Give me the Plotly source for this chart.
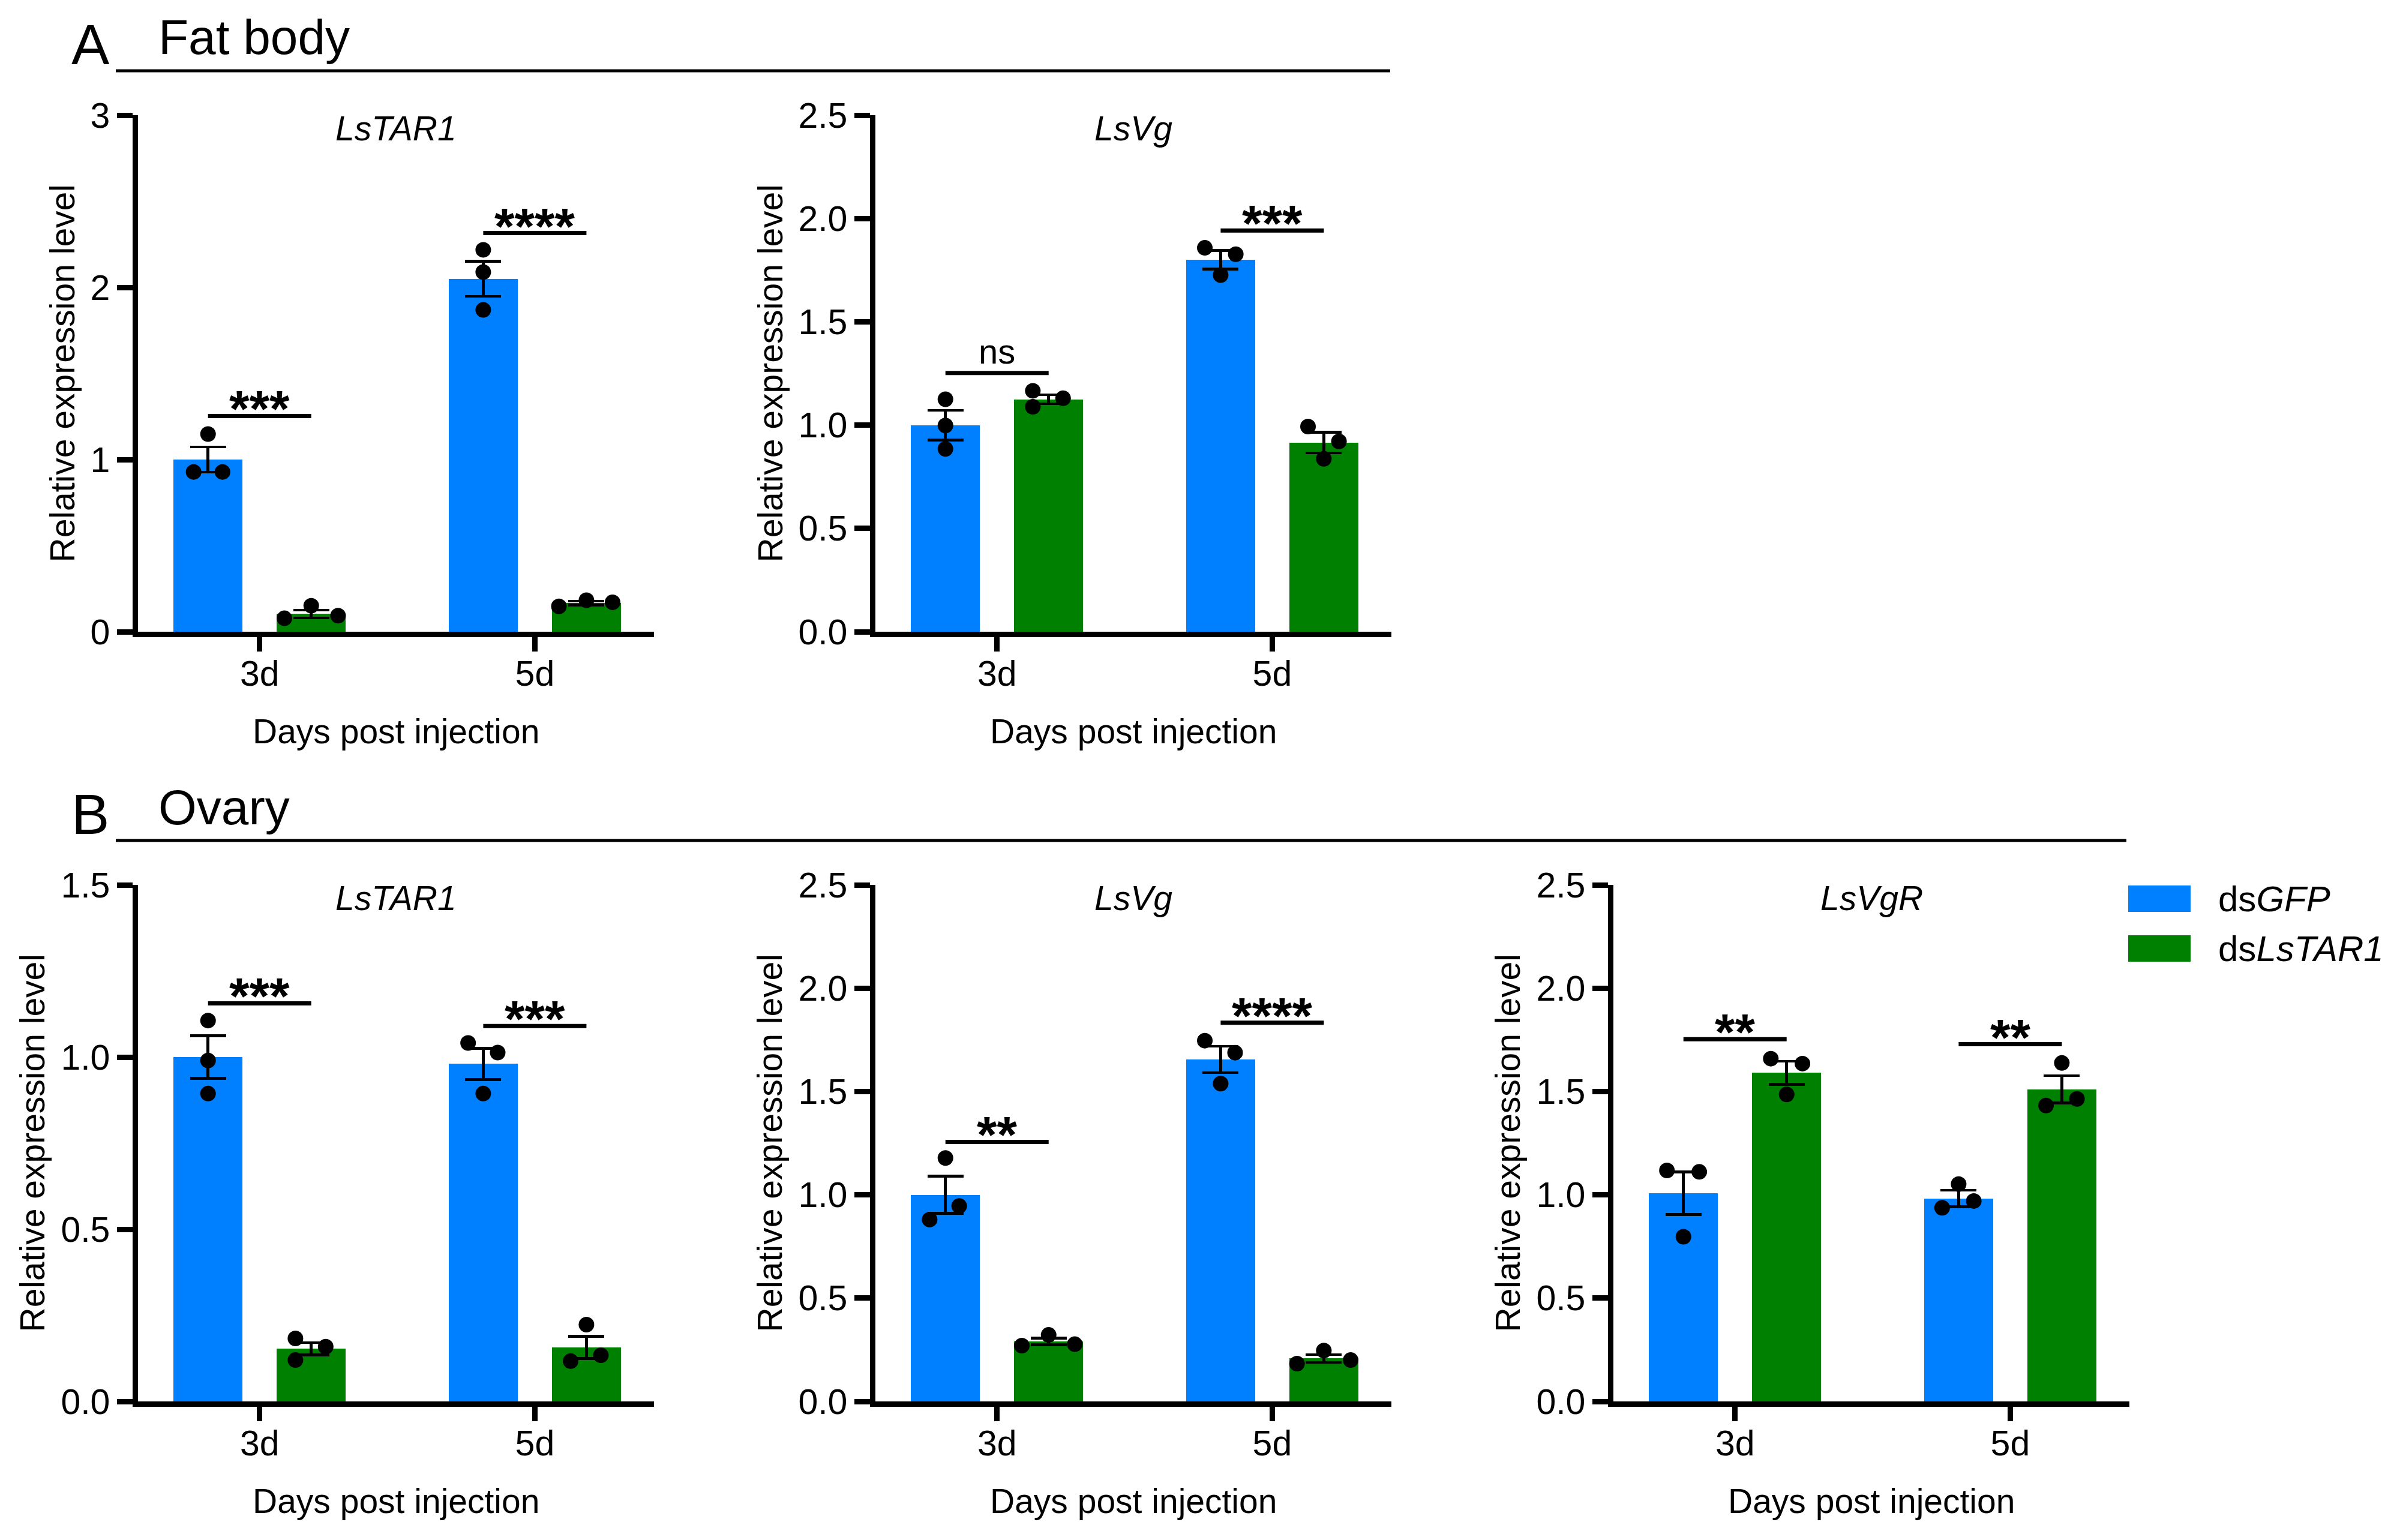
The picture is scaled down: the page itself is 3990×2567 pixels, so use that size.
import plotly.graph_objects as go

W, H = 3990, 2567
BLUE, GREEN = '#0080FF', '#008000'
FONT = 'Arial, Liberation Sans, sans-serif'

groups = ['3d', '5d']

# ---- A: fat body, LsTAR1 ----
fb_tar1_gfp_mean = [1.00, 2.05]
fb_tar1_gfp_sem = [0.074, 0.102]
fb_tar1_gfp_pts = [[1.148, 0.928, 0.928], [2.218, 2.089, 1.869]]
fb_tar1_ds_mean = [0.103, 0.166]
fb_tar1_ds_sem = [0.022, 0.011]
fb_tar1_ds_pts = [[0.078, 0.151, 0.093], [0.147, 0.183, 0.171]]
fb_tar1_sig = [('***', 1.253), ('****', 2.315)]

# ---- A: fat body, LsVg ----
fb_vg_gfp_mean = [1.00, 1.80]
fb_vg_gfp_sem = [0.072, 0.045]
fb_vg_gfp_pts = [[1.125, 0.998, 0.885], [1.858, 1.827, 1.726]]
fb_vg_ds_mean = [1.125, 0.915]
fb_vg_ds_sem = [0.022, 0.050]
fb_vg_ds_pts = [[1.166, 1.089, 1.130], [0.993, 0.921, 0.837]]
fb_vg_sig = [('ns', 1.252), ('***', 1.942)]

# ---- B: ovary, LsTAR1 ----
ov_tar1_gfp_mean = [1.00, 0.98]
ov_tar1_gfp_sem = [0.062, 0.045]
ov_tar1_gfp_pts = [[1.106, 0.990, 0.894], [1.041, 1.013, 0.894]]
ov_tar1_ds_mean = [0.153, 0.157]
ov_tar1_ds_sem = [0.018, 0.032]
ov_tar1_ds_pts = [[0.183, 0.159, 0.120], [0.223, 0.117, 0.134]]
ov_tar1_sig = [('***', 1.156), ('***', 1.090)]

# ---- B: ovary, LsVg ----
ov_vg_gfp_mean = [1.00, 1.655]
ov_vg_gfp_sem = [0.090, 0.064]
ov_vg_gfp_pts = [[1.178, 0.880, 0.946], [1.746, 1.688, 1.538]]
ov_vg_ds_mean = [0.290, 0.208]
ov_vg_ds_sem = [0.016, 0.019]
ov_vg_ds_pts = [[0.270, 0.322, 0.277], [0.183, 0.246, 0.200]]
ov_vg_sig = [('**', 1.256), ('****', 1.833)]

# ---- B: ovary, LsVgR ----
ov_vgr_gfp_mean = [1.007, 0.982]
ov_vgr_gfp_sem = [0.103, 0.040]
ov_vgr_gfp_pts = [[1.118, 1.111, 0.797], [1.052, 0.937, 0.970]]
ov_vgr_ds_mean = [1.590, 1.511]
ov_vgr_ds_sem = [0.056, 0.066]
ov_vgr_ds_pts = [[1.659, 1.635, 1.486], [1.638, 1.432, 1.464]]
ov_vgr_sig = [('**', 1.753), ('**', 1.729)]

# horizontal scatter of the replicate dots (fraction of bar width)
jit = {
    'fb_tar1': ([[0, -0.21, 0.21], [0, 0, 0]], [[-0.39, 0, 0.39], [-0.4, 0, 0.38]]),
    'fb_vg': ([[0, 0, 0], [-0.23, 0.22, 0]], [[-0.23, -0.23, 0.21], [-0.23, 0.22, 0]]),
    'ov_tar1': ([[0, 0, 0], [-0.22, 0.21, 0]], [[-0.23, 0.21, -0.23], [0, -0.23, 0.21]]),
    'ov_vg': ([[0, -0.23, 0.2], [-0.23, 0.21, 0]], [[-0.39, 0, 0.38], [-0.39, 0, 0.39]]),
    'ov_vgr': ([[-0.24, 0.23, 0], [0, -0.24, 0.22]], [[-0.23, 0.23, 0], [0, -0.23, 0.22]]),
}

panels = [
    ('fb_tar1', 'LsTAR1', 0, 0, 3, 1, 'd',
     fb_tar1_gfp_mean, fb_tar1_gfp_sem, fb_tar1_gfp_pts,
     fb_tar1_ds_mean, fb_tar1_ds_sem, fb_tar1_ds_pts, fb_tar1_sig),
    ('fb_vg', 'LsVg', 0, 1, 2.5, 0.5, '.1f',
     fb_vg_gfp_mean, fb_vg_gfp_sem, fb_vg_gfp_pts,
     fb_vg_ds_mean, fb_vg_ds_sem, fb_vg_ds_pts, fb_vg_sig),
    ('ov_tar1', 'LsTAR1', 1, 0, 1.5, 0.5, '.1f',
     ov_tar1_gfp_mean, ov_tar1_gfp_sem, ov_tar1_gfp_pts,
     ov_tar1_ds_mean, ov_tar1_ds_sem, ov_tar1_ds_pts, ov_tar1_sig),
    ('ov_vg', 'LsVg', 1, 1, 2.5, 0.5, '.1f',
     ov_vg_gfp_mean, ov_vg_gfp_sem, ov_vg_gfp_pts,
     ov_vg_ds_mean, ov_vg_ds_sem, ov_vg_ds_pts, ov_vg_sig),
    ('ov_vgr', 'LsVgR', 1, 2, 2.5, 0.5, '.1f',
     ov_vgr_gfp_mean, ov_vgr_gfp_sem, ov_vgr_gfp_pts,
     ov_vgr_ds_mean, ov_vgr_ds_sem, ov_vgr_ds_pts, ov_vgr_sig),
]

# layout in pixels (of the final picture)
col_x0 = [230, 1459, 2689]
col_w = 860
row_top = [192, 1475]
row_bot = [1053, 2336]
bw = 0.25      # bar width (category units)
off = 0.1875   # bar offset from group centre
PAGE = 8       # default body margin of the html page


def px(x):
    return (x - PAGE) / W


def py(y):
    return 1 - (y - PAGE) / H


fig = go.Figure()
annotations = []
shapes = []

for i, p in enumerate(panels):
    key, gene, r, c, ymax, dtick, fmt, gm, gs, gp, dm, ds, dp, sig = p
    n = '' if i == 0 else str(i + 1)
    xa, ya = 'x' + n, 'y' + n
    gx = list(range(len(groups)))

    for mean, sem, col, sgn in [(gm, gs, BLUE, -1), (dm, ds, GREEN, 1)]:
        fig.add_trace(go.Bar(
            x=[g + sgn * off for g in gx], y=mean, width=bw,
            marker=dict(color=col, line=dict(width=0)),
            error_y=dict(type='data', array=sem, visible=True, color='black',
                         thickness=4.5, width=30),
            xaxis=xa, yaxis=ya, showlegend=False))
    for pts, jj, sgn in [(gp, jit[key][0], -1), (dp, jit[key][1], 1)]:
        xs, ys = [], []
        for g in gx:
            for v, j in zip(pts[g], jj[g]):
                xs.append(g + sgn * off + j * bw)
                ys.append(v)
        fig.add_trace(go.Scatter(
            x=xs, y=ys, mode='markers',
            marker=dict(color='black', size=26, line=dict(width=0)),
            xaxis=xa, yaxis=ya, showlegend=False, cliponaxis=False))

    x0 = col_x0[c]
    fig.layout['xaxis' + n] = dict(
        domain=[px(x0), px(x0 + col_w)], anchor=ya, automargin=False,
        range=[-0.442, 1.433], tickvals=gx, ticktext=groups,
        showline=True, linewidth=8.5, linecolor='black', ticks='outside',
        ticklen=24, tickwidth=9, tickcolor='black', showgrid=False, zeroline=False,
        ticklabelstandoff=-14, tickfont=dict(size=59, color='black'))
    fig.layout['yaxis' + n] = dict(
        domain=[py(row_bot[r]), py(row_top[r])], anchor=xa, automargin=False,
        range=[0, ymax], dtick=dtick, tick0=0, tickformat=fmt,
        showline=True, linewidth=8.5, linecolor='black', ticks='outside',
        ticklen=26, tickwidth=9, tickcolor='black', showgrid=False, zeroline=False,
        tickfont=dict(size=59, color='black'))

    # significance brackets
    for g, (txt, yv) in zip(gx, sig):
        shapes.append(dict(type='line', xref=xa, yref=ya, x0=g - off, x1=g + off,
                           y0=yv, y1=yv, line=dict(color='black', width=7)))
        if txt == 'ns':
            annotations.append(dict(xref=xa, yref=ya, x=g, y=yv, text='ns',
                                    showarrow=False, yanchor='bottom', yshift=2,
                                    font=dict(size=58, color='black')))
        else:
            annotations.append(dict(xref=xa, yref=ya, x=g, y=yv, text='<b>' + txt + '</b>',
                                    showarrow=False, yanchor='bottom', yshift=-38,
                                    font=dict(size=86, color='black')))

    # gene title, axis titles
    cx = x0 + col_w / 2
    annotations.append(dict(xref='paper', yref='paper', x=px(cx), y=py(214 + 1283 * r),
                            text='<i>' + gene + '</i>', showarrow=False,
                            xanchor='center', yanchor='middle',
                            font=dict(size=57, color='black')))
    annotations.append(dict(xref='paper', yref='paper', x=px(cx), y=py(1219 + 1283 * r),
                            text='Days post injection', showarrow=False,
                            xanchor='center', yanchor='middle',
                            font=dict(size=57, color='black')))
    ty = (row_top[r] + row_bot[r]) / 2
    tx = x0 - (127 if ymax == 3 else 176)
    annotations.append(dict(xref='paper', yref='paper', x=px(tx), y=py(ty),
                            text='Relative expression level', textangle=-90,
                            showarrow=False, xanchor='center', yanchor='middle',
                            font=dict(size=57, color='black')))

# section headers
for r, (letter, name, x_end) in enumerate([('A', 'Fat body', 2317), ('B', 'Ovary', 3544)]):
    dy = 1283 * r
    annotations.append(dict(xref='paper', yref='paper', x=px(117), y=py(74 + dy),
                            text=letter, showarrow=False, xanchor='left', yanchor='middle',
                            font=dict(size=95, color='black')))
    annotations.append(dict(xref='paper', yref='paper', x=px(262), y=py(62 + dy),
                            text=name, showarrow=False, xanchor='left', yanchor='middle',
                            font=dict(size=82, color='black')))
    shapes.append(dict(type='line', xref='paper', yref='paper', x0=px(193), x1=px(x_end),
                       y0=py(118 + dy), y1=py(118 + dy), line=dict(color='black', width=5)))

# legend
for (label, col, yc) in [('ds<i>GFP</i>', BLUE, 1498), ('ds<i>LsTAR1</i>', GREEN, 1581)]:
    shapes.append(dict(type='rect', xref='paper', yref='paper', x0=px(3547), x1=px(3651),
                       y0=py(yc + 22), y1=py(yc - 22), fillcolor=col, line=dict(width=0)))
    annotations.append(dict(xref='paper', yref='paper', x=px(3695), y=py(yc),
                            text=label, showarrow=False, xanchor='left', yanchor='middle',
                            font=dict(size=60, color='black')))

fig.update_layout(
    width=W, height=H, margin=dict(l=0, r=0, t=0, b=0),
    paper_bgcolor='white', plot_bgcolor='white',
    font=dict(family=FONT, color='black'),
    bargap=0, showlegend=False,
    annotations=annotations, shapes=shapes)

fig.write_html("out.html")
